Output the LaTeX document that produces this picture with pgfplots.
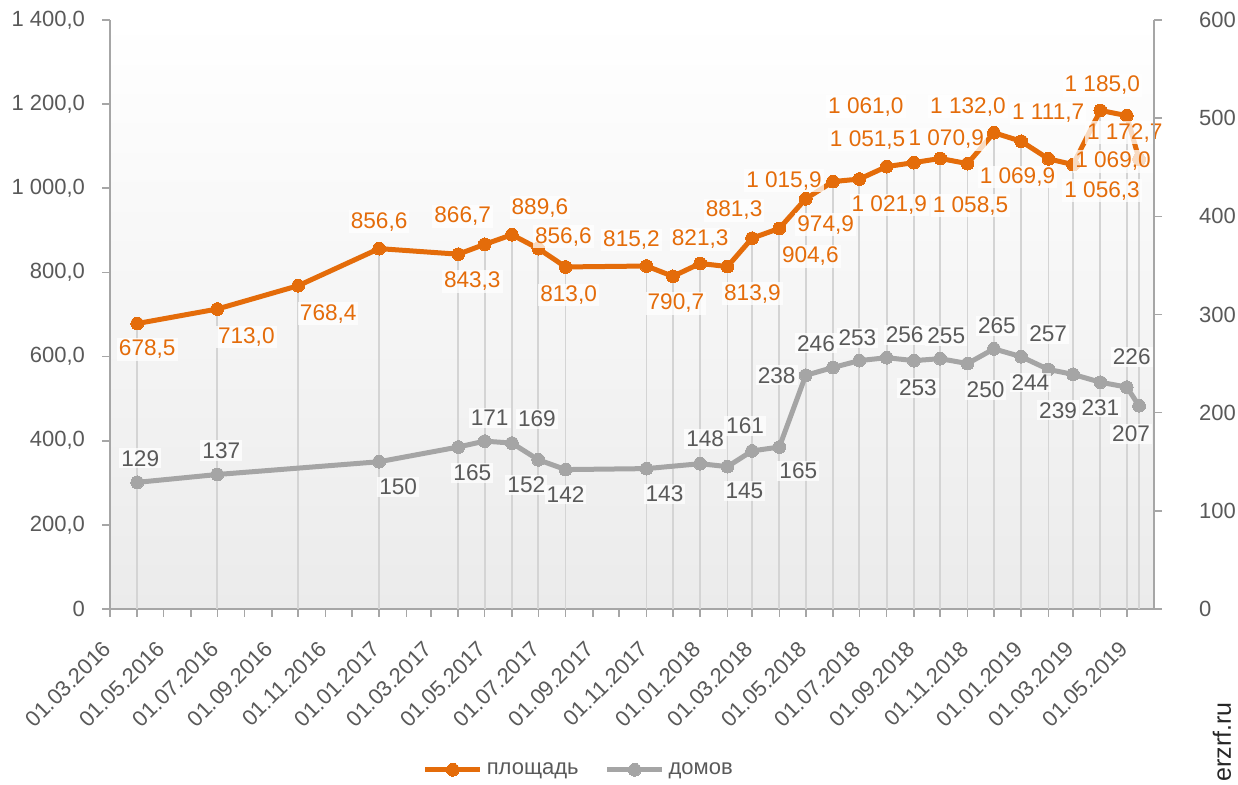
\documentclass[border=0pt]{standalone}
\usepackage{pgfplots}
\pgfplotsset{compat=1.18}
\usepackage{pgfplotstable}
\usepackage{fontspec}
\setmainfont{Liberation Sans}
\definecolor{orng}{HTML}{E46C0A}
\definecolor{grl}{HTML}{A5A5A5}
\definecolor{txt}{HTML}{595959}
\definecolor{axc}{HTML}{A6A6A6}
\definecolor{drop}{HTML}{D4D4D4}
\definecolor{bgb}{HTML}{EBEBEB}

% x = days since 01.03.2016; off = label offset dx/dy in px (dy up positive)
\pgfplotstableread{
x y off
31 678.5 10/-26
122 713.0 29/-28
214 768.4 30/-28
306 856.6 0/27
396 843.3 14/-27
426 866.7 -22/28
457 889.6 28/27
487 856.6 25/12
518 813.0 3/-28
610 815.2 -15/26
640 790.7 3/-27
671 821.3 0/24
702 813.9 25/-27
730 881.3 -18/28
761 904.6 31/-28
791 974.9 20/-26
822 1015.9 -49/1
852 1021.9 30/-26
883 1051.5 -19/27
914 1061.0 -48/56
944 1070.9 6/19
975 1058.5 3/-42
1005 1132.0 -26/26
1036 1111.7 27/28
1067 1069.9 -31/-18
1095 1056.3 29/-26
1126 1185.0 2/25
1156 1172.7 -2/-17
1170 1069.0 -26/-2
}\area

\pgfplotstableread{
x y off
31 129 3/24
122 137 4/24
306 150 19/-25
396 165 14/-26
426 171 5/23
457 169 25/24
487 152 -12/-25
518 142 0/-25
610 143 18/-25
671 148 5/25
702 145 17/-24
730 161 -7/25
761 165 19/-24
791 238 -29/0
822 246 -17/24
852 253 -2/23
883 256 18/23
914 253 4/-27
944 255 6/23
975 250 18/-26
1005 265 3/23
1036 257 27/23
1067 244 -18/-13
1095 239 -15/-36
1126 231 0/-25
1156 226 5/30
1170 207 -8/-28
}\houses

\def\getoff#1/#2\relax{\def\ldx{#1}\def\ldy{#2}}

\pgfplotsset{
  common/.style={
    at={(0,0)}, anchor=south west,
    scale only axis, width=522pt, height=294.5pt,
    xmin=0, xmax=1187,
    clip=false,
    axis line style={axc, line width=0.8pt},
    tick style={axc, line width=0.8pt},
    tick align=outside, major tick length=4pt,
    ticklabel style={text=txt, font=\fontsize{11}{13}\selectfont},
  },
  lbl/.style={
    draw=none, mark=none, forget plot,
    point meta=explicit symbolic,
    nodes near coords style={/utils/exec={\expandafter\getoff\pgfplotspointmeta\relax},
      anchor=center, xshift=\ldx*0.5pt, yshift=\ldy*0.5pt,
      font=\fontsize{11.3}{13}\selectfont, fill=white, fill opacity=0.75, text opacity=1,
      inner sep=1pt},
  },
  ser/.style={#1, line width=2.5pt, mark=*, mark size=3.2pt, mark options={solid, fill=#1, draw=#1, line width=0pt}},
}

\begin{document}
\begin{tikzpicture}
\begin{axis}[common,
  ymin=0, ymax=1400,
  axis lines*=left,
  axis background/.style={shade, top color=white, bottom color=bgb},
  xtick={0,31,61,92,122,153,184,214,245,275,306,337,365,396,426,457,487,518,549,579,610,640,671,702,730,761,791,822,852,883,914,944,975,1005,1036,1067,1095,1126,1156},
  xticklabels={01.03.2016,,01.05.2016,,01.07.2016,,01.09.2016,,01.11.2016,,01.01.2017,,01.03.2017,,01.05.2017,,01.07.2017,,01.09.2017,,01.11.2017,,01.01.2018,,01.03.2018,,01.05.2018,,01.07.2018,,01.09.2018,,01.11.2018,,01.01.2019,,01.03.2019,,01.05.2019},
  xticklabel style={xshift=-1.3pt, yshift=-14pt, rotate=45, anchor=east, inner sep=0pt},
  ytick={0,200,...,1400},
  yticklabels={0,{200,0},{400,0},{600,0},{800,0},{1 000,0},{1 200,0},{1 400,0}},
  yticklabel style={xshift=-5pt},
  legend style={at={(0.45,-0.273)}, anchor=center, draw=none, fill=none,
    legend columns=2, font=\fontsize{11}{13}\selectfont, text=txt,
    /tikz/every even column/.append style={column sep=11pt}},
  legend image code/.code={\draw[mark repeat=2, mark phase=2, #1] plot coordinates {(0pt,0pt) (13.75pt,0pt) (27.5pt,0pt)};},
]
\addplot[ycomb, draw=drop, line width=0.9pt, mark=none, forget plot] table[x=x, y=y] {\area};
\addplot[ser=orng] table[x=x, y=y] {\area};
\addlegendentry{площадь}
\addlegendimage{ser=grl}
\addlegendentry{домов}
\addplot[lbl, nodes near coords={\pgfmathprintnumber[fixed, fixed zerofill, precision=1, use comma, 1000 sep={\ }, assume math mode=true]{\pgfkeysvalueof{/data point/y}}},
  every node near coord/.append style={text=orng}]
  table[x=x, y=y, meta=off] {\area};
\end{axis}
\begin{axis}[common,
  ymin=0, ymax=600,
  axis x line=none, axis y line*=right,
  ytick={0,100,...,600},
  yticklabels={0,100,200,300,400,500,600},
  yticklabel style={xshift=15pt},
]
\addplot[ser=grl] table[x=x, y=y] {\houses};
\addplot[lbl, nodes near coords={\pgfmathprintnumber[fixed, precision=0, assume math mode=true]{\pgfkeysvalueof{/data point/y}}},
  every node near coord/.append style={text=txt}]
  table[x=x, y=y, meta=off] {\houses};
\end{axis}
\node[rotate=90, font=\fontsize{12.5}{14}\selectfont, text={black!85}] at (556pt,-66.5pt) {erzrf.ru};
\pgfresetboundingbox
\path[use as bounding box] (-55pt,-88pt) rectangle (564pt,304.5pt);
\end{tikzpicture}
\end{document}
